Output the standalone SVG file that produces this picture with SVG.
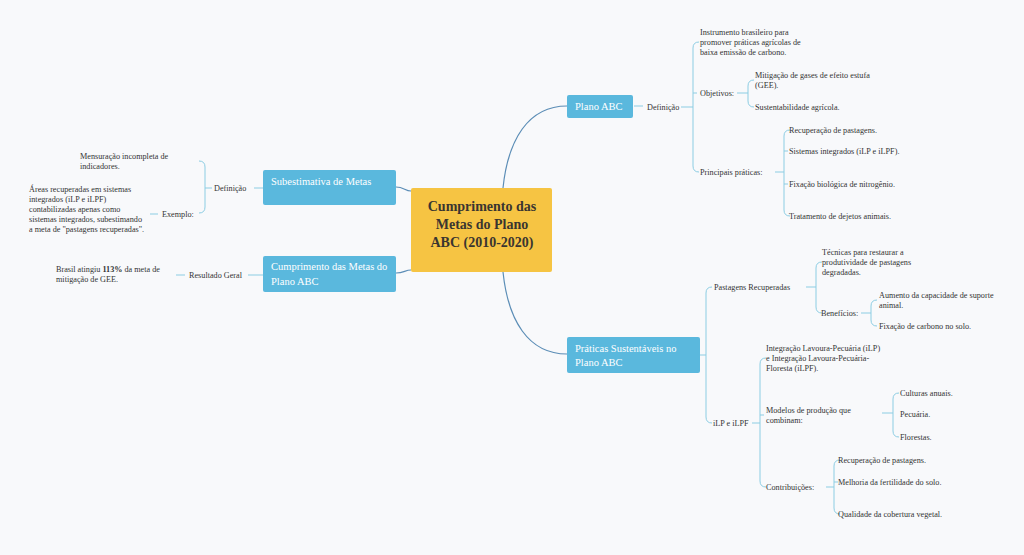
<svg xmlns="http://www.w3.org/2000/svg" width="1024" height="555" viewBox="0 0 1024 555">
<style>
.bg{fill:#F8F9FB}
.node{fill:#5AB8DD}
.center{fill:#F6C443}
.nt{font-family:"Liberation Serif",serif;font-size:10.5px;fill:#FFFFFF}
.ct{font-family:"Liberation Serif",serif;font-size:14px;font-weight:bold;fill:#3A3530;text-anchor:middle}
.lt{font-family:"Liberation Serif",serif;font-size:8.2px;fill:#333333}
.main{fill:none;stroke:#5B8DB6;stroke-width:1.2}
.sub{fill:none;stroke:#8CCDE3;stroke-width:1}
</style>
<rect class="bg" x="0" y="0" width="1024" height="555"/>

<g id="connectors">
  <path class="main" d="M503 188 C508 140 528 106 567 106"/>
  <path class="main" d="M503 272 C508 320 528 354 567 354"/>
  <path class="main" d="M396 187 C404 187 405 191 411 191"/>
  <path class="main" d="M396 273 C404 273 405 270 411 270"/>
  <path class="sub" d="M634 106 L643 106"/>
  <path class="sub" d="M681 107 L693 107"/>
  <path class="sub" d="M699 42 Q693 42 693 48 L693 166 Q693 172 699 172"/>
  <path class="sub" d="M693 93 L697 93"/>
  <path class="sub" d="M737 93 L748 93"/>
  <path class="sub" d="M754 80 Q748 80 748 86 L748 101 Q748 107 754 107"/>
  <path class="sub" d="M775 172 L784 172"/>
  <path class="sub" d="M790 130 Q784 130 784 136 L784 210 Q784 216 790 216"/>
  <path class="sub" d="M784 151 L788 151"/>
  <path class="sub" d="M784 184 L788 184"/>
  <path class="sub" d="M700 355 L706 355"/>
  <path class="sub" d="M712 287 Q706 287 706 293 L706 417 Q706 423 712 423"/>
  <path class="sub" d="M806 287 L816 287"/>
  <path class="sub" d="M822 262 Q816 262 816 268 L816 307 Q816 313 822 313"/>
  <path class="sub" d="M861 313 L871 313"/>
  <path class="sub" d="M877 300 Q871 300 871 306 L871 320 Q871 326 877 326"/>
  <path class="sub" d="M752 423 L760 423"/>
  <path class="sub" d="M766 358 Q760 358 760 364 L760 481 Q760 487 766 487"/>
  <path class="sub" d="M760 415 L764 415"/>
  <path class="sub" d="M882 413 L893 413"/>
  <path class="sub" d="M899 393 Q893 393 893 399 L893 431 Q893 437 899 437"/>
  <path class="sub" d="M826 487 L834 487"/>
  <path class="sub" d="M840 460 Q834 460 834 466 L834 508 Q834 514 840 514"/>
  <path class="sub" d="M834 482 L838 482"/>
  <path class="sub" d="M254 188 L263 188"/>
  <path class="sub" d="M212 188 L205 188"/>
  <path class="sub" d="M199 161 Q205 161 205 167 L205 207 Q205 213 199 213"/>
  <path class="sub" d="M158 214 L150 214"/>
  <path class="sub" d="M248 275 L263 275"/>
  <path class="sub" d="M185 275 L176 275"/>
</g>

<g id="center-node">
  <rect class="center" x="411" y="188" width="141" height="84" rx="2"/>
  <text class="ct" x="482" y="211">Cumprimento das</text>
  <text class="ct" x="482" y="229">Metas do Plano</text>
  <text class="ct" x="482" y="247">ABC (2010-2020)</text>
</g>

<g id="node-subestimativa">
  <rect class="node" x="263" y="170" width="133" height="35" rx="2"/>
  <text class="nt" x="271" y="185">Subestimativa de Metas</text>
</g>
<g id="node-sub-definicao">
  <text class="lt" x="214" y="191">Definição</text>
</g>
<g id="node-mensuracao">
  <text class="lt" x="80" y="159">Mensuração incompleta de</text>
  <text class="lt" x="80" y="169">indicadores.</text>
</g>
<g id="node-exemplo">
  <text class="lt" x="162" y="217">Exemplo:</text>
</g>
<g id="node-areas">
  <text class="lt" x="29" y="192">Áreas recuperadas em sistemas</text>
  <text class="lt" x="29" y="202">integrados (iLP e iLPF)</text>
  <text class="lt" x="29" y="212">contabilizadas apenas como</text>
  <text class="lt" x="29" y="222">sistemas integrados, subestimando</text>
  <text class="lt" x="29" y="232">a meta de "pastagens recuperadas".</text>
</g>

<g id="node-cumprimento">
  <rect class="node" x="263" y="256" width="133" height="36" rx="2"/>
  <text class="nt" x="271" y="270">Cumprimento das Metas do</text>
  <text class="nt" x="271" y="285">Plano ABC</text>
</g>
<g id="node-resultado">
  <text class="lt" x="189" y="278">Resultado Geral</text>
</g>
<g id="node-brasil">
  <text class="lt" x="56" y="272">Brasil atingiu <tspan font-weight="bold">113%</tspan> da meta de</text>
  <text class="lt" x="56" y="282">mitigação de GEE.</text>
</g>

<g id="node-plano">
  <rect class="node" x="567" y="95" width="66" height="23" rx="2"/>
  <text class="nt" x="575" y="110">Plano ABC</text>
</g>
<g id="node-plano-definicao">
  <text class="lt" x="647" y="110">Definição</text>
</g>
<g id="node-instrumento">
  <text class="lt" x="700" y="35">Instrumento brasileiro para</text>
  <text class="lt" x="700" y="45">promover práticas agrícolas de</text>
  <text class="lt" x="700" y="55">baixa emissão de carbono.</text>
</g>
<g id="node-objetivos">
  <text class="lt" x="700" y="96">Objetivos:</text>
</g>
<g id="node-mitigacao">
  <text class="lt" x="755" y="78">Mitigação de gases de efeito estufa</text>
  <text class="lt" x="755" y="88">(GEE).</text>
</g>
<g id="node-sustentabilidade">
  <text class="lt" x="755" y="110">Sustentabilidade agrícola.</text>
</g>
<g id="node-principais">
  <text class="lt" x="700" y="175">Principais práticas:</text>
</g>
<g id="node-pp1"><text class="lt" x="789" y="133">Recuperação de pastagens.</text></g>
<g id="node-pp2"><text class="lt" x="789" y="154">Sistemas integrados (iLP e iLPF).</text></g>
<g id="node-pp3"><text class="lt" x="789" y="187">Fixação biológica de nitrogênio.</text></g>
<g id="node-pp4"><text class="lt" x="789" y="219">Tratamento de dejetos animais.</text></g>

<g id="node-praticas">
  <rect class="node" x="567" y="337" width="133" height="36" rx="2"/>
  <text class="nt" x="575" y="352">Práticas Sustentáveis no</text>
  <text class="nt" x="575" y="366">Plano ABC</text>
</g>
<g id="node-pastagens">
  <text class="lt" x="714" y="290">Pastagens Recuperadas</text>
</g>
<g id="node-tecnicas">
  <text class="lt" x="822" y="255">Técnicas para restaurar a</text>
  <text class="lt" x="822" y="265">produtividade de pastagens</text>
  <text class="lt" x="822" y="275">degradadas.</text>
</g>
<g id="node-beneficios">
  <text class="lt" x="821" y="316">Benefícios:</text>
</g>
<g id="node-aumento">
  <text class="lt" x="879" y="298">Aumento da capacidade de suporte</text>
  <text class="lt" x="879" y="308">animal.</text>
</g>
<g id="node-fixacao-carbono">
  <text class="lt" x="879" y="329">Fixação de carbono no solo.</text>
</g>
<g id="node-ilp">
  <text class="lt" x="713" y="426">iLP e iLPF</text>
</g>
<g id="node-integracao">
  <text class="lt" x="766" y="351">Integração Lavoura-Pecuária (iLP)</text>
  <text class="lt" x="766" y="361">e Integração Lavoura-Pecuária-</text>
  <text class="lt" x="766" y="371">Floresta (iLPF).</text>
</g>
<g id="node-modelos">
  <text class="lt" x="766" y="413">Modelos de produção que</text>
  <text class="lt" x="766" y="423">combinam:</text>
</g>
<g id="node-culturas"><text class="lt" x="900" y="396">Culturas anuais.</text></g>
<g id="node-pecuaria"><text class="lt" x="900" y="417">Pecuária.</text></g>
<g id="node-florestas"><text class="lt" x="900" y="440">Florestas.</text></g>
<g id="node-contribuicoes">
  <text class="lt" x="766" y="490">Contribuições:</text>
</g>
<g id="node-c1"><text class="lt" x="838" y="463">Recuperação de pastagens.</text></g>
<g id="node-c2"><text class="lt" x="838" y="485">Melhoria da fertilidade do solo.</text></g>
<g id="node-c3"><text class="lt" x="838" y="517">Qualidade da cobertura vegetal.</text></g>
</svg>
